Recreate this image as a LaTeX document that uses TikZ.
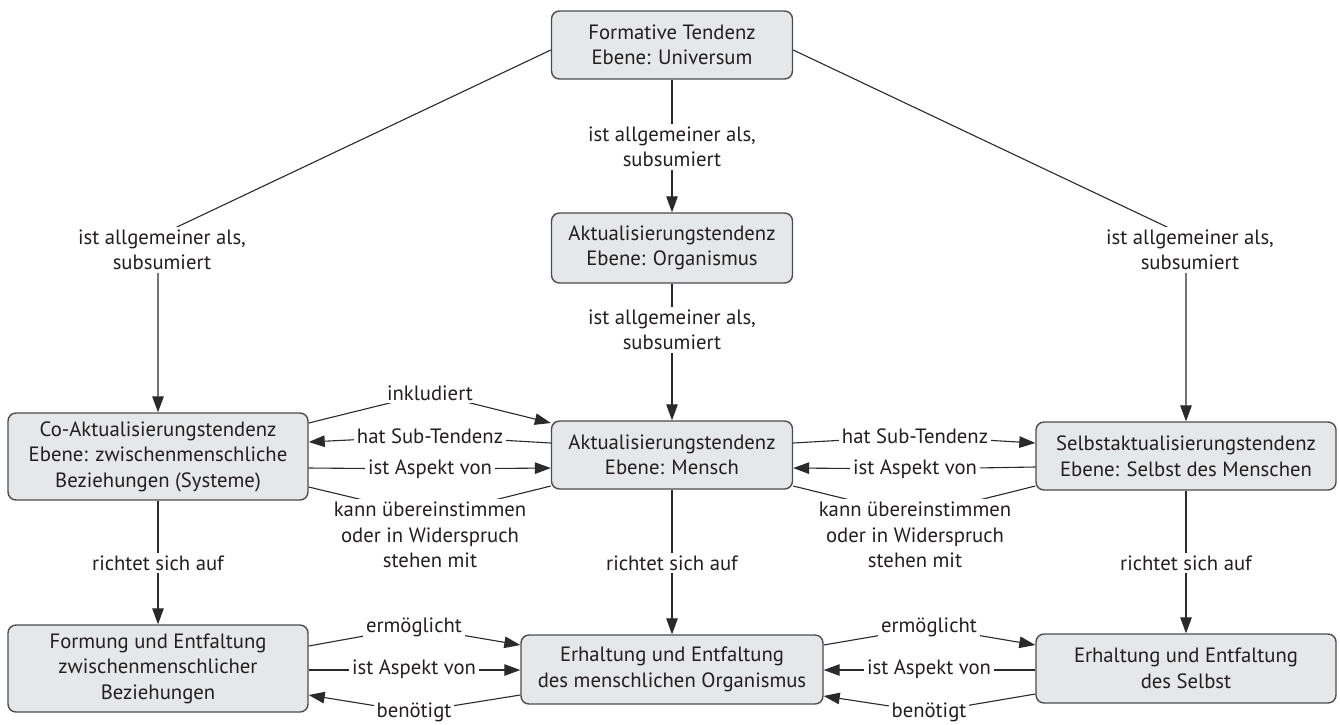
\documentclass[tikz,border=0pt]{standalone}
\usepackage{fontspec}
\setmainfont{PT Sans}
\usetikzlibrary{arrows.meta}
\definecolor{txt}{HTML}{231F20}
\definecolor{boxfill}{HTML}{E6E7E8}
\definecolor{boxdraw}{HTML}{4D4D4F}
\definecolor{linec}{HTML}{2A2A2A}
\begin{document}
\begin{tikzpicture}[x=1pt,y=-1pt,
  box/.style={draw=boxdraw, line width=1.4pt, fill=boxfill, rounded corners=8pt, align=center, inner sep=0pt, text=txt, font=\fontsize{20.7}{25.5}\selectfont},
  lab/.style={fill=white, align=center, inner sep=3pt, text=txt, font=\fontsize{20.7}{25.5}\selectfont},
  conn/.style={draw=linec, line width=1.1pt},
  arr/.style={conn, -{Triangle[length=16pt,width=11.5pt]}}]
\fill[white] (0,0) rectangle (1340,724);
\useasboundingbox (0,0) rectangle (1340,724);
% boxes
\node[box, minimum width=241pt, minimum height=68pt] (F) at (672,45) {Formative Tendenz\\Ebene: Universum};
\node[box, minimum width=241pt, minimum height=70pt] (O) at (672,248) {Aktualisierungstendenz\\Ebene: Organismus};
\node[box, minimum width=241pt, minimum height=68pt] (M) at (672,455) {Aktualisierungstendenz\\Ebene: Mensch};
\node[box, minimum width=300pt, minimum height=87pt] (C) at (158,456.5) {Co-Aktualisierungstendenz\\Ebene: zwischenmenschliche\\Beziehungen (Systeme)};
\node[box, minimum width=300pt, minimum height=68pt] (S) at (1186,456) {Selbstaktualisierungstendenz\\Ebene: Selbst des Menschen};
\node[box, minimum width=300pt, minimum height=87pt] (Fo) at (158,668.5) {Formung und Entfaltung\\zwischenmenschlicher\\Beziehungen};
\node[box, minimum width=302pt, minimum height=69pt] (EO) at (672,669.5) {Erhaltung und Entfaltung\\des menschlichen Organismus};
\node[box, minimum width=300pt, minimum height=69pt] (ES) at (1186,668.5) {Erhaltung und Entfaltung\\des Selbst};
% helper coordinates
\coordinate (kL) at (158,236);
\coordinate (kR) at (1186,236);
\coordinate (kCM) at (430,516);
\coordinate (kMS) at (915,516);
% connectors
\draw[arr] (F.west |- 0,50) -- (kL) -- (C.north);
\draw[arr] (F.east |- 0,50) -- (kR) -- (S.north);
\draw[arr] (F) -- (O);
\draw[arr] (O) -- (M);
\draw[arr] (C.east |- 0,423) -- (430,393) -- (M.west |- 0,423);
\draw[arr] (M.west |- 0,443) -- (430,436) -- (C.east |- 0,442);
\draw[arr] (C.east |- 0,468) -- (430,469) -- (M.west |- 0,468);
\draw[conn] (C.east |- 0,487) -- (kCM) -- (M.west |- 0,486);
\draw[arr] (M.east |- 0,443) -- (915,436) -- (S.west |- 0,443);
\draw[arr] (S.west |- 0,467) -- (915,469) -- (M.east |- 0,468);
\draw[conn] (M.east |- 0,486) -- (kMS) -- (S.west |- 0,486);
\draw[arr] (C) -- (Fo);
\draw[arr] (M) -- (EO);
\draw[arr] (S) -- (ES);
\draw[arr] (Fo.east |- 0,646) -- (414,627) -- (EO.west |- 0,645);
\draw[arr] (Fo.east |- 0,670) -- (EO.west |- 0,670);
\draw[arr] (EO.west |- 0,695) -- (414,712) -- (Fo.east |- 0,695);
\draw[arr] (EO.east |- 0,645) -- (929,627) -- (ES.west |- 0,645);
\draw[arr] (ES.west |- 0,670) -- (EO.east |- 0,670);
\draw[arr] (ES.west |- 0,694) -- (929,712) -- (EO.east |- 0,696);
% labels
\node[lab] (l1) at (162,250) {ist allgemeiner als,\\subsumiert};
\node[lab] (l2) at (1190,250) {ist allgemeiner als,\\subsumiert};
\node[lab] (l3) at (672,147) {ist allgemeiner als,\\subsumiert};
\node[lab] (l4) at (672,330) {ist allgemeiner als,\\subsumiert};
\node[lab] (l5) at (430,393) {inkludiert};
\node[lab] (l6) at (430,436) {hat Sub-Tendenz};
\node[lab] (l7) at (430,469) {ist Aspekt von};
\node[lab] (l8) at (430,535) {kann übereinstimmen\\oder in Widerspruch\\stehen mit};
\node[lab] (l9) at (915,436) {hat Sub-Tendenz};
\node[lab] (l10) at (915,469) {ist Aspekt von};
\node[lab] (l11) at (915,535) {kann übereinstimmen\\oder in Widerspruch\\stehen mit};
\node[lab] (l12) at (158,563) {richtet sich auf};
\node[lab] (l13) at (672,563) {richtet sich auf};
\node[lab] (l14) at (1186,563) {richtet sich auf};
\node[lab] (l15) at (414,627) {ermöglicht};
\node[lab] (l16) at (414,669) {ist Aspekt von};
\node[lab] (l17) at (414,712) {benötigt};
\node[lab] (l18) at (929,627) {ermöglicht};
\node[lab] (l19) at (929,669) {ist Aspekt von};
\node[lab] (l20) at (929,712) {benötigt};
\end{tikzpicture}
\end{document}
